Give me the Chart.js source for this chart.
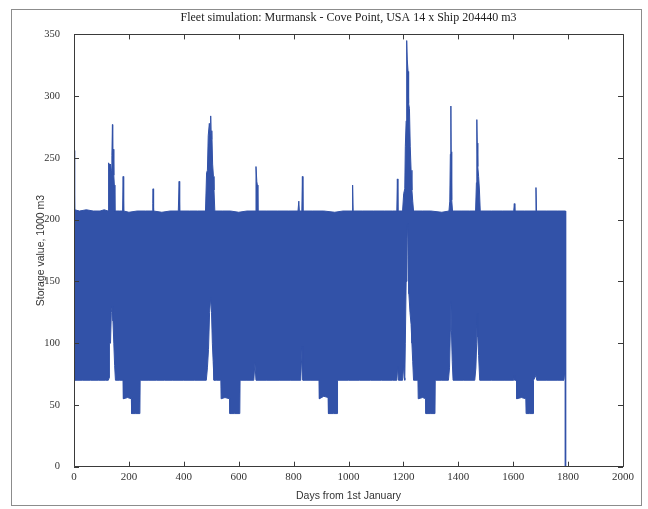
<!DOCTYPE html>
<html>
<head>
<meta charset="utf-8">
<title>Fleet simulation</title>
<script src="https://cdn.jsdelivr.net/npm/chart.js@4.4.1/dist/chart.umd.min.js"></script>
<style>
    html, body { margin: 0; padding: 0; background: #fff; }
    #frame {
        position: absolute;
        left: 11px; top: 9px;
        width: 629px; height: 495px;
        border: 1px solid #8c8c8c;
    }
    #chart { position: absolute; left: 0; top: 0; }
</style>
</head>
<body>
<div id="frame"></div>
<canvas id="chart" width="648" height="509"></canvas>
<script>
// Storage level envelope (days, 1000 m3)
const upperDays = [0, 2, 3, 20, 45, 70, 95, 110, 124, 126, 128, 130, 133, 136, 138, 140, 141, 143, 145, 147, 149,
    165, 177, 179, 181, 200, 230, 260, 280, 285, 287, 288, 290, 320, 350, 380, 383, 385, 420, 450,
    479, 483, 486, 489, 493, 496, 498, 500, 502, 505, 508, 510, 513, 540, 570, 600, 630,
    660, 663, 666, 668, 670, 700, 740, 780, 816, 819, 821, 830, 832, 834, 870, 910, 950, 980,
    1013, 1015, 1017, 1050, 1090, 1130, 1160, 1176, 1178, 1180,
    1197, 1201, 1205, 1207, 1210, 1212, 1214, 1217, 1219, 1222, 1225, 1228, 1231, 1234, 1237,
    1270, 1300, 1340, 1366, 1369, 1371, 1373, 1374, 1376, 1379, 1410, 1440,
    1463, 1466, 1467, 1468, 1469, 1471, 1474, 1477, 1480, 1520, 1560, 1602, 1604, 1606,
    1640, 1681, 1683, 1685, 1720, 1760, 1791, 1791];
const upperValues = [256, 256, 208, 207, 208, 207, 207, 208, 207, 246, 245, 240, 245, 240, 252, 277, 250, 257, 236, 228, 207,
    207, 207, 235, 207, 206, 207, 207, 207, 207, 213, 225, 207, 206, 207, 207, 231, 207, 207, 207,
    207, 238, 240, 268, 278, 270, 284, 265, 272, 245, 235, 224, 207, 207, 207, 206, 207,
    207, 243, 231, 228, 207, 207, 207, 207, 207, 215, 207, 207, 235, 207, 207, 207, 206, 207,
    207, 228, 207, 207, 207, 207, 207, 207, 233, 207,
    207, 221, 225, 259, 280, 345, 330, 320, 294, 290, 259, 240, 224, 215, 207,
    207, 207, 206, 207, 215, 253, 292, 255, 216, 207, 207, 207,
    207, 230, 264, 281, 262, 243, 235, 224, 207, 207, 207, 207, 213, 207,
    207, 207, 226, 207, 207, 207, 207, 0];

const lowerDays = [0, 2, 3, 30, 60, 90, 115, 125, 128, 129, 133, 136, 139, 142, 145, 148, 151, 165,
    179, 180, 195, 209, 210, 225, 240, 241, 270, 300, 330, 360, 400, 440,
    482, 486, 490, 494, 498, 501, 504, 507, 510, 520,
    535, 536, 550, 567, 568, 585, 604, 605, 630, 655, 659, 663, 700, 750, 790, 826, 831, 834, 860,
    893, 894, 910, 926, 927, 945, 959, 960, 1000, 1040, 1080, 1120, 1160, 1176, 1179, 1182,
    1197, 1200, 1203, 1205, 1207, 1210, 1213, 1215, 1217, 1220, 1224, 1228, 1231, 1234, 1237,
    1253, 1254, 1270, 1281, 1282, 1300, 1315, 1316, 1340,
    1364, 1368, 1371, 1373, 1375, 1378, 1381, 1420, 1460, 1464, 1467, 1469, 1471, 1474, 1478,
    1520, 1570, 1602, 1604, 1606, 1612, 1613, 1630, 1646, 1647, 1660, 1673, 1674, 1683, 1686,
    1720, 1760, 1785, 1788, 1790, 1790];
const lowerValues = [84, 84, 70, 70, 70, 70, 70, 70, 72, 100, 100, 125, 130, 118, 100, 82, 70, 70,
    70, 55, 56, 55, 43, 43, 43, 70, 70, 70, 70, 70, 70, 70,
    70, 80, 95, 125, 137, 125, 100, 85, 70, 70,
    70, 55, 56, 55, 43, 43, 43, 70, 70, 70, 84, 70, 70, 70, 70, 70, 97, 70, 70,
    70, 55, 57, 56, 43, 43, 43, 70, 70, 70, 70, 70, 70, 70, 81, 70,
    70, 82, 72, 70, 100, 150, 185, 197, 170, 140, 125, 115, 100, 85, 70,
    70, 55, 56, 55, 43, 43, 43, 70, 70,
    70, 80, 110, 134, 110, 85, 70, 70, 70, 80, 100, 124, 105, 90, 70,
    70, 70, 70, 74, 70, 70, 55, 56, 55, 43, 43, 43, 70, 74, 70,
    70, 70, 70, 78, 70, 0];

// Axis ticks
const xTicks = [0, 200, 400, 600, 800, 1000, 1200, 1400, 1600, 1800, 2000];
const yTicks = [0, 50, 100, 150, 200, 250, 300, 350];

const blue = '#3252a8';
const axisColor = '#3a3a3a';

// MATLAB-style box with inward ticks on all four sides
const boxTicks = {
    id: 'boxTicks',
    afterDraw(chart) {
        const { ctx, chartArea: a, scales: { x, y } } = chart;
        const len = 5;
        ctx.save();
        ctx.strokeStyle = axisColor;
        ctx.lineWidth = 1;
        ctx.beginPath();
        ctx.rect(Math.round(a.left) + 0.5, Math.round(a.top) + 0.5,
            Math.round(a.right - a.left), Math.round(a.bottom - a.top));
        xTicks.forEach(v => {
            const px = Math.round(x.getPixelForValue(v)) + 0.5;
            ctx.moveTo(px, a.bottom); ctx.lineTo(px, a.bottom - len);
            ctx.moveTo(px, a.top); ctx.lineTo(px, a.top + len);
        });
        yTicks.forEach(v => {
            const py = Math.round(y.getPixelForValue(v)) + 0.5;
            ctx.moveTo(a.left, py); ctx.lineTo(a.left + len, py);
            ctx.moveTo(a.right, py); ctx.lineTo(a.right - len, py);
        });
        ctx.stroke();
        ctx.restore();
    }
};

const toPoints = (days, vals) => days.map((d, i) => ({ x: d, y: vals[i] }));

new Chart(document.getElementById('chart'), {
    type: 'line',
    data: {
        datasets: [
            // lower edge: blanks everything below it, drawn on top of the upper fill
            {
                label: 'lower',
                data: toPoints(lowerDays, lowerValues),
                borderColor: blue,
                backgroundColor: '#ffffff',
                borderWidth: 1,
                pointRadius: 0,
                tension: 0,
                fill: 'origin'
            },
            {
                label: 'upper',
                data: toPoints(upperDays, upperValues),
                borderColor: blue,
                backgroundColor: blue,
                borderWidth: 1,
                pointRadius: 0,
                tension: 0,
                fill: 'origin'
            }
        ]
    },
    options: {
        responsive: false,
        animation: false,
        layout: { padding: { left: 30, right: 25, top: 10, bottom: 3 } },
        plugins: {
            legend: { display: false },
            tooltip: { enabled: false }
        },
        scales: {
            x: {
                type: 'linear',
                min: 0,
                max: 2000,
                afterBuildTicks: (s) => { s.ticks = xTicks.map(v => ({ value: v })); },
                grid: { display: false, drawTicks: false },
                border: { display: false },
                ticks: {
                    padding: 4,
                    maxRotation: 0,
                    color: '#333',
                    callback: (v) => String(v),
                    font: { family: "'Liberation Serif', serif", size: 11 }
                },
                title: {
                    display: true,
                    text: 'Days from 1st January',
                    color: '#333',
                    padding: { top: 1.5, bottom: 4 },
                    font: { family: "'Liberation Sans', sans-serif", size: 10.5 }
                }
            },
            top: {
                type: 'linear',
                position: 'top',
                min: 0,
                max: 2000,
                grid: { display: false, drawTicks: false },
                border: { display: false },
                ticks: { display: false },
                title: {
                    display: true,
                    text: 'Fleet simulation: Murmansk - Cove Point, USA 14 x Ship 204440 m3',
                    color: '#222',
                    padding: { top: 1, bottom: 9 },
                    font: { family: "'Liberation Serif', serif", size: 12 }
                }
            },
            y: {
                type: 'linear',
                min: 0,
                max: 350,
                afterBuildTicks: (s) => { s.ticks = yTicks.map(v => ({ value: v })); },
                afterFit: (s) => { s.width = 44; },
                grid: { display: false, drawTicks: false },
                border: { display: false },
                ticks: {
                    padding: 14,
                    color: '#333',
                    callback: (v) => String(v),
                    font: { family: "'Liberation Serif', serif", size: 10.5 }
                },
                title: {
                    display: true,
                    text: 'Storage value, 1000 m3',
                    color: '#333',
                    padding: { top: 5, bottom: 0 },
                    font: { family: "'Liberation Sans', sans-serif", size: 10.5 }
                }
            }
        }
    },
    plugins: [boxTicks]
});
</script>
</body>
</html>
